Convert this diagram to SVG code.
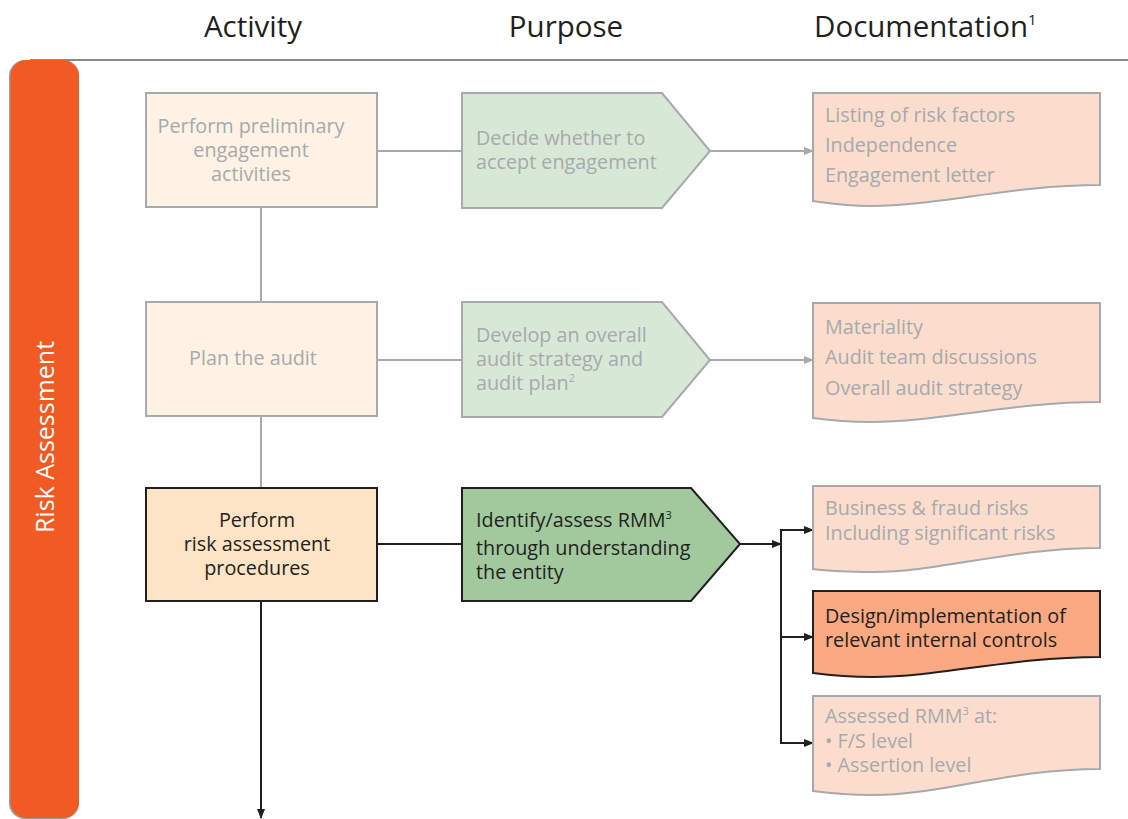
<svg xmlns="http://www.w3.org/2000/svg" width="1128" height="819" viewBox="0 0 1128 819">
<style>
.hdr{font-family:"Open Sans","Noto Sans",sans-serif;font-size:29.5px;fill:#231F20}
.t{font-family:"Open Sans","Noto Sans",sans-serif;font-size:19.8px}
.g{fill:#A7A9AC}
.k{fill:#231F20}
.gs{stroke:#A7A9AC;stroke-width:2}
.ks{stroke:#231F20;stroke-width:2}
.sup{font-size:11px}
</style>
<defs>
<marker id="ag" markerWidth="10" markerHeight="10" refX="9" refY="5" orient="auto" markerUnits="userSpaceOnUse"><path d="M0,1 L10,5 L0,9 Z" fill="#A7A9AC"/></marker>
<marker id="ak" markerWidth="10" markerHeight="10" refX="9" refY="5" orient="auto" markerUnits="userSpaceOnUse"><path d="M0,1 L10,5 L0,9 Z" fill="#231F20"/></marker>
</defs>
<rect width="1128" height="819" fill="#fff"/>
<g id="headers">
<text class="hdr" x="253" y="37" text-anchor="middle">Activity</text>
<text class="hdr" x="566" y="37" text-anchor="middle">Purpose</text>
<text class="hdr" x="814" y="37">Documentation<tspan font-size="15" dy="-12">1</tspan></text>
</g>
<line x1="30" y1="60" x2="1128" y2="60" stroke="#8a8a8a" stroke-width="2"/>
<g id="lane">
<rect x="9" y="60" width="70" height="759" rx="16" fill="#9a9b9e"/>
<rect x="10.5" y="60" width="68.5" height="758" rx="16" fill="#F15A22"/>
<text x="0" y="0" transform="translate(54,437) rotate(-90)" text-anchor="middle" font-family="'Open Sans','Noto Sans',sans-serif" font-size="25" fill="#fff">Risk Assessment</text>
</g>
<g id="connectors" fill="none">
<line class="gs" x1="261" y1="207" x2="261" y2="302"/>
<line class="gs" x1="261" y1="416" x2="261" y2="488"/>
<line class="gs" x1="377" y1="151" x2="462" y2="151"/>
<line class="gs" x1="710" y1="151" x2="813" y2="151" marker-end="url(#ag)"/>
<line class="gs" x1="377" y1="360" x2="462" y2="360"/>
<line class="gs" x1="710" y1="360" x2="813" y2="360" marker-end="url(#ag)"/>
<line class="ks" x1="377" y1="544" x2="462" y2="544"/>
<line class="ks" x1="740" y1="544" x2="781" y2="544" marker-end="url(#ak)"/>
<line class="ks" x1="781" y1="529" x2="781" y2="744"/>
<line class="ks" x1="780" y1="530" x2="813" y2="530" marker-end="url(#ak)"/>
<line class="ks" x1="780" y1="637" x2="813" y2="637" marker-end="url(#ak)"/>
<line class="ks" x1="780" y1="743" x2="813" y2="743" marker-end="url(#ak)"/>
<line class="ks" x1="261" y1="601" x2="261" y2="818" marker-end="url(#ak)"/>
</g>
<g id="n-prelim">
<rect x="146" y="93" width="231" height="114" fill="#FDF2E4" class="gs"/>
<text class="t g" text-anchor="middle"><tspan x="251" y="133">Perform preliminary</tspan><tspan x="251" y="157">engagement</tspan><tspan x="251" y="181">activities</tspan></text>
</g>
<g id="n-accept">
<path d="M462,93 H662 L710,151 L662,208 H462 Z" fill="#D8E8D6" class="gs"/>
<text class="t g"><tspan x="476" y="145">Decide whether to</tspan><tspan x="476" y="169">accept engagement</tspan></text>
</g>
<g id="n-doc1">
<path d="M813,93 H1100 V185 C1010,185 940,206 870,206 C845,206 828,203 813,201 Z" fill="#FBDDCD" class="gs"/>
<text class="t g"><tspan x="825" y="122">Listing of risk factors</tspan><tspan x="825" y="152">Independence</tspan><tspan x="825" y="182">Engagement letter</tspan></text>
</g>
<g id="n-plan">
<rect x="146" y="302" width="231" height="114" fill="#FDF2E4" class="gs"/>
<text class="t g" x="253" y="365" text-anchor="middle">Plan the audit</text>
</g>
<g id="n-strategy">
<path d="M462,302 H662 L710,360 L662,417 H462 Z" fill="#D8E8D6" class="gs"/>
<text class="t g"><tspan x="476" y="342">Develop an overall</tspan><tspan x="476" y="366">audit strategy and</tspan><tspan x="476" y="390">audit plan<tspan class="sup" dy="-8">2</tspan></tspan></text>
</g>
<g id="n-doc2">
<path d="M813,303 H1100 V402 C1010,402 940,422 870,422 C845,422 828,420 813,418 Z" fill="#FBDDCD" class="gs"/>
<text class="t g"><tspan x="825" y="334">Materiality</tspan><tspan x="825" y="364">Audit team discussions</tspan><tspan x="825" y="395">Overall audit strategy</tspan></text>
</g>
<g id="n-risk">
<rect x="146" y="488" width="231" height="113" fill="#FCE4C4" class="ks"/>
<text class="t k" text-anchor="middle"><tspan x="257" y="527">Perform</tspan><tspan x="257" y="551">risk assessment</tspan><tspan x="257" y="575">procedures</tspan></text>
</g>
<g id="n-identify">
<path d="M462,488 H691 L740,544 L691,601 H462 Z" fill="#A2C89E" class="ks"/>
<text class="t k"><tspan x="476" y="527">Identify/assess RMM<tspan class="sup" dy="-8">3</tspan></tspan><tspan x="476" y="555">through understanding</tspan><tspan x="476" y="579">the entity</tspan></text>
</g>
<g id="n-doc3">
<path d="M813,486 H1100 V548 C1010,548 940,572 873,572 C845,572 828,571 813,569 Z" fill="#FBDDCD" class="gs"/>
<text class="t g"><tspan x="825" y="515">Business &amp; fraud risks</tspan><tspan x="825" y="540">Including significant risks</tspan></text>
</g>
<g id="n-doc4">
<path d="M813,591 H1100 V657 C1010,657 940,677 873,677 C845,677 828,675 813,673 Z" fill="#F9A982" class="ks"/>
<text class="t k"><tspan x="825" y="623">Design/implementation of</tspan><tspan x="825" y="647">relevant internal controls</tspan></text>
</g>
<g id="n-doc5">
<path d="M813,696 H1100 V769 C1010,769 940,795 873,795 C845,795 828,793 813,791 Z" fill="#FBDDCD" class="gs"/>
<text class="t g"><tspan x="825" y="723">Assessed RMM<tspan class="sup" dy="-8">3</tspan><tspan dy="8"> at:</tspan></tspan><tspan x="825" y="748">• F/S level</tspan><tspan x="825" y="772">• Assertion level</tspan></text>
</g>
</svg>
